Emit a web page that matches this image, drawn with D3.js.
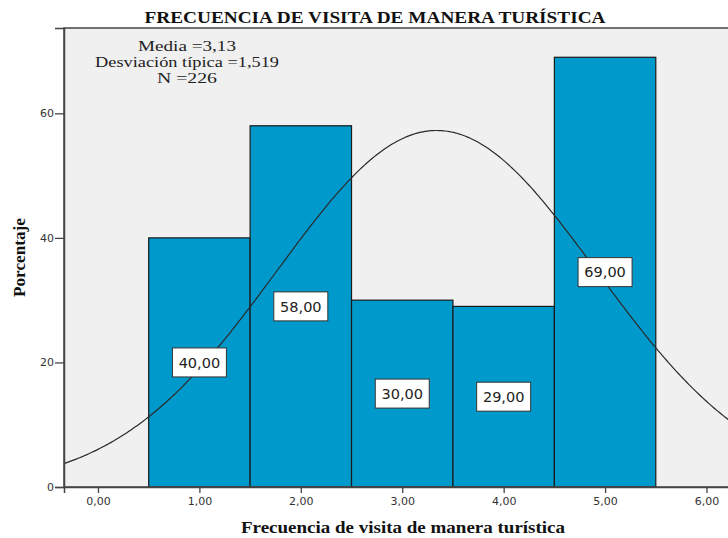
<!DOCTYPE html>
<html>
<head>
<meta charset="utf-8">
<script src="https://cdn.jsdelivr.net/npm/d3@7"></script>
<style>
  body { margin: 0; background: #fff; }
</style>
</head>
<body>
<div id="chart"></div>
<script>
// data
const categories = [1, 2, 3, 4, 5];
const counts = [40, 58, 30, 29, 69];
const barLabels = ['40,00', '58,00', '30,00', '29,00', '69,00'];
const xTicks = [0, 1, 2, 3, 4, 5, 6];
const yTicks = [0, 20, 40, 60];
const statsLines = ['Media =3,13', 'Desviación típica =1,519', 'N =226'];
const statsWidths = [98, 184, 60];
// normal curve as drawn in the picture
const curveMean = 3.34, curveSd = 1.575, curveN = 226;

const width = 728, height = 538;
const margin = {top: 28, right: -14, bottom: 51, left: 64};
const iw = width - margin.left - margin.right,
    ih = height - margin.top - margin.bottom;

const svg = d3.select("#chart")
    .append("svg")
    .attr("width", width)
    .attr("height", height);

const g = svg.append("g")
    .attr("transform", `translate(${margin.left}, ${margin.top})`);

const x = d3.scaleLinear().domain([-0.335, 6.35]).range([0, iw]);
const y = d3.scaleLinear().domain([0, 73.7]).range([ih, 0]);

// plot background
g.append("rect")
    .attr("width", iw).attr("height", ih)
    .attr("fill", "#f0f0f0");

// bars
g.selectAll(".bar")
    .data(categories)
    .join("rect")
    .attr("class", "bar")
    .attr("x", d => x(d - 0.5))
    .attr("width", d => x(d + 0.5) - x(d - 0.5))
    .attr("y", (d, i) => y(counts[i]))
    .attr("height", (d, i) => ih - y(counts[i]))
    .attr("fill", "#0099cc")
    .attr("stroke", "#1a1a1a")
    .attr("stroke-width", 1.2);

// normal curve
const xs = d3.range(-0.335, 6.36, 0.02);
const curve = d3.line()
    .x(d => x(d))
    .y(d => y(curveN / (curveSd * Math.sqrt(2 * Math.PI)) *
        Math.exp(-((d - curveMean) ** 2) / (2 * curveSd * curveSd))));
g.append("path")
    .datum(xs)
    .attr("d", curve)
    .attr("fill", "none")
    .attr("stroke", "#2a2a2a")
    .attr("stroke-width", 1.2);

// value boxes at half bar height
const lab = g.selectAll(".lab")
    .data(categories)
    .join("g")
    .attr("class", "lab")
    .attr("transform", (d, i) => `translate(${x(d)}, ${y(counts[i] / 2)})`);
lab.append("rect")
    .attr("x", -27).attr("y", -14.5)
    .attr("width", 54).attr("height", 29)
    .attr("fill", "#fff")
    .attr("stroke", "#333")
    .attr("stroke-width", 1);
lab.append("text")
    .attr("text-anchor", "middle")
    .attr("dy", "0.36em")
    .style("font-family", "DejaVu Sans")
    .style("font-size", "14.5px")
    .attr("fill", "#222")
    .text((d, i) => barLabels[i]);

// frame
g.append("rect")
    .attr("width", iw).attr("height", ih)
    .attr("fill", "none")
    .attr("stroke", "#444")
    .attr("stroke-width", 1.5);

// axes
const fmt = d => d.toFixed(2).replace('.', ',');
const xAxis = g.append("g")
    .attr("transform", `translate(0, ${ih})`)
    .call(d3.axisBottom(x).tickValues(xTicks).tickFormat(fmt).tickSize(6).tickPadding(4));
const yAxis = g.append("g")
    .call(d3.axisLeft(y).tickValues(yTicks).tickSize(9).tickPadding(1));
[xAxis, yAxis].forEach(a => {
    a.select(".domain").attr("stroke", "#444").attr("stroke-width", 1.5);
    a.selectAll(".tick line").attr("stroke", "#444").attr("stroke-width", 1.3);
    a.selectAll(".tick text")
        .style("font-family", "DejaVu Sans")
        .style("font-size", "11px")
        .attr("fill", "#333");
});

// stats text
svg.append("g").selectAll("text")
    .data(statsLines)
    .join("text")
    .attr("x", 187)
    .attr("y", (d, i) => 51 + i * 16)
    .attr("text-anchor", "middle")
    .attr("textLength", (d, i) => statsWidths[i])
    .attr("lengthAdjust", "spacingAndGlyphs")
    .style("font-family", "Liberation Serif")
    .style("font-size", "15.5px")
    .attr("fill", "#222")
    .text(d => d);

// title and axis titles
svg.append("text")
    .attr("x", 375).attr("y", 23)
    .attr("text-anchor", "middle")
    .attr("textLength", 461)
    .attr("lengthAdjust", "spacingAndGlyphs")
    .style("font-family", "Liberation Serif")
    .style("font-weight", "bold")
    .style("font-size", "16px")
    .attr("fill", "#111")
    .text("FRECUENCIA DE VISITA DE MANERA TURÍSTICA");

svg.append("text")
    .attr("x", 403).attr("y", 533)
    .attr("text-anchor", "middle")
    .attr("textLength", 324)
    .attr("lengthAdjust", "spacingAndGlyphs")
    .style("font-family", "Liberation Serif")
    .style("font-weight", "bold")
    .style("font-size", "17px")
    .attr("fill", "#111")
    .text("Frecuencia de visita de manera turística");

svg.append("text")
    .attr("transform", `translate(25, ${margin.top + ih / 2}) rotate(-90)`)
    .attr("text-anchor", "middle")
    .attr("textLength", 79)
    .attr("lengthAdjust", "spacingAndGlyphs")
    .style("font-family", "Liberation Serif")
    .style("font-weight", "bold")
    .style("font-size", "16px")
    .attr("fill", "#111")
    .text("Porcentaje");
</script>
</body>
</html>
